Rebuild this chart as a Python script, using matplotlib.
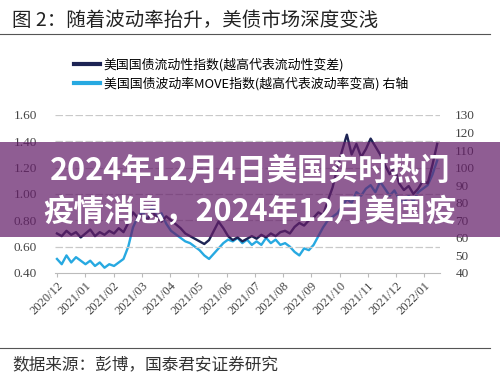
import numpy as np
import matplotlib
matplotlib.use('Agg')
import matplotlib.pyplot as plt
from matplotlib.patches import Rectangle
from matplotlib.lines import Line2D

plt.rcParams['font.family'] = ['Noto Sans CJK SC', 'DejaVu Sans']

# 数据（按图估读，约每月 6 个点）
liquidity = [
    0.70, 0.68, 0.72, 0.69, 0.71, 0.67,
    0.70, 0.73, 0.68, 0.71, 0.69, 0.72,
    0.70, 0.74, 0.71, 0.78, 0.86, 0.82,
    0.84, 0.80, 0.87, 0.82, 0.79, 0.83,
    0.80, 0.77, 0.74, 0.70, 0.68, 0.66,
    0.64, 0.62, 0.65, 0.72, 0.79, 0.74,
    0.68, 0.65, 0.67, 0.64, 0.66, 0.68,
    0.66, 0.69, 0.67, 0.70, 0.68, 0.71,
    0.72, 0.70, 0.75, 0.78, 0.76, 0.80,
    0.82, 0.86, 0.84, 0.95, 1.05, 1.20,
    1.33, 1.45, 1.30, 1.38, 1.28, 1.34,
    1.42, 1.36, 1.30, 1.22, 1.15, 1.20,
    1.08, 1.03, 1.06, 1.00, 1.04, 1.10,
    1.08, 1.22, 1.38,
]
move = [
    48, 45, 50, 46, 49, 47,
    45, 47, 44, 46, 43, 45,
    44, 46, 48, 55, 66, 72,
    75, 70, 78, 72, 74, 68,
    64, 62, 60, 58, 57, 55,
    53, 50, 48, 51, 54, 57,
    59, 58, 60, 57, 59, 56,
    58, 56, 60, 57, 59, 56,
    57, 55, 52, 50, 54, 53,
    56, 61, 66, 70, 72, 74,
    78, 82, 80, 86, 84, 88,
    90, 86, 92, 88, 84, 87,
    82, 80, 84, 81, 86, 88,
    90, 96, 104,
]
month_labels = ['2020/12', '2021/01', '2021/02', '2021/03', '2021/04', '2021/05',
                '2021/06', '2021/07', '2021/08', '2021/09', '2021/10', '2021/11',
                '2021/12', '2022/01']
left_ticks = [0.40, 0.60, 0.80, 1.00, 1.20, 1.40, 1.60]
right_ticks = [40, 50, 60, 70, 80, 90, 100, 110, 120, 130]

title = '图 2：随着波动率抬升，美债市场深度变浅'
legend_labels = ['美国国债流动性指数(越高代表流动性变差)',
                 '美国国债波动率MOVE指数(越高代表波动率变高) 右轴']
source = '数据来源：彭博，国泰君安证券研究'
banner = ['2024年12月4日美国实时热门', '疫情消息，2024年12月美国疫']

dark = '#1d2454'
light = '#27a9e1'
grid_c = '#c9c9c9'
serif = ['Liberation Serif', 'DejaVu Serif']

fig = plt.figure(figsize=(5, 3.8), dpi=100)
ax = fig.add_axes([0.11, 0.2816, 0.77, 0.416])
ax2 = ax.twinx()

t = np.linspace(0, 13.45, len(liquidity))
ax2.plot(t, move, color=light, lw=1.7, zorder=2)
ax.plot(t, liquidity, color=dark, lw=1.7, zorder=3)
ax.set_zorder(ax2.get_zorder() + 1)
ax.patch.set_visible(False)

ax.set_ylim(0.4, 1.6)
ax2.set_ylim(40, 130)
ax.set_xlim(-0.07, 13.55)
ax.set_yticks(left_ticks)
ax.set_yticklabels(['%.2f' % v for v in left_ticks], family=serif, fontsize=9.5, color='#444444')
ax2.set_yticks(right_ticks)
ax2.set_yticklabels([str(v) for v in right_ticks], family=serif, fontsize=9.5, color='#444444')
ax.set_xticks(range(len(month_labels)))
ax.set_xticklabels(month_labels, rotation=45, ha='right', rotation_mode='anchor',
                   family=serif, fontsize=9, color='#444444')
for v in left_ticks[1:]:
    ax.axhline(v, color=grid_c, lw=0.9, ls=(0, (6, 2)), zorder=0)

for a in (ax, ax2):
    for s in a.spines.values():
        s.set_visible(False)
ax.spines['bottom'].set_visible(True)
ax.spines['bottom'].set_color('#bbbbbb')
ax.tick_params(axis='y', length=0, pad=13)
ax2.tick_params(axis='y', length=0, pad=11)
ax.tick_params(axis='x', length=3, color='#bbbbbb', pad=2)

# 标题、分隔线、图例、来源
fig.text(0.024, 0.945, title, fontsize=14, fontweight='medium', color='#222222', va='center')
fig.add_artist(Line2D([0.0, 0.98], [0.911, 0.911], color='#555555', lw=0.8))
fig.add_artist(Line2D([0.0, 0.98], [0.084, 0.084], color='#555555', lw=0.8))
fig.text(0.024, 0.04, source, fontsize=12, color='#333333', va='center')

handles = [Line2D([], [], color=dark, lw=3), Line2D([], [], color=light, lw=3)]
fig.legend(handles, legend_labels, loc='upper left', bbox_to_anchor=(0.148, 0.848),
           frameon=False, fontsize=9.3, handlelength=2.0, handletextpad=0.3,
           labelspacing=0.4, borderaxespad=0, borderpad=0)

# 紫色横幅
fig.add_artist(Rectangle((0, 0.3763), 1, 0.25, transform=fig.transFigure,
                         facecolor=(100 / 255, 30 / 255, 105 / 255), alpha=0.72,
                         edgecolor='none', zorder=10))
fig.text(0.5, 0.551, banner[0], fontsize=22, fontweight='bold', color='white',
         ha='center', va='center', zorder=11)
fig.text(0.5, 0.443, banner[1], fontsize=22, fontweight='bold', color='white',
         ha='center', va='center', zorder=11)

fig.savefig('out.png', dpi=100)
